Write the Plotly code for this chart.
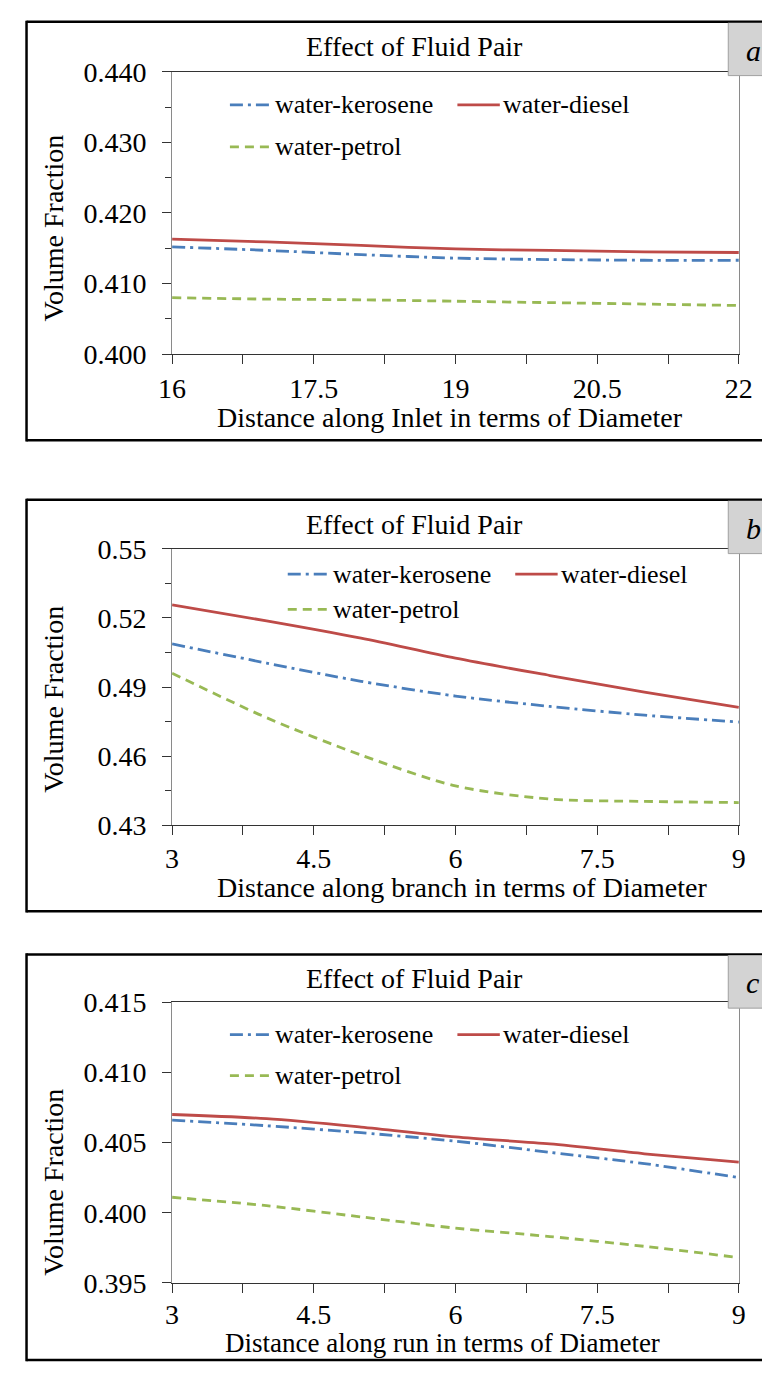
import plotly.graph_objects as go

W, H = 776, 1378

# ---------------- data ----------------
series_names = ["water-kerosene", "water-diesel", "water-petrol"]

x_a = [16, 17, 18, 19, 20, 21, 22]
a_kerosene = [0.4152, 0.4147, 0.4141, 0.4136, 0.4134, 0.4133, 0.4133]
a_diesel = [0.4163, 0.4159, 0.4154, 0.4149, 0.4147, 0.4145, 0.4144]
a_petrol = [0.4080, 0.4078, 0.4077, 0.4075, 0.4073, 0.4071, 0.4069]

x_b = [3, 4, 5, 6, 7, 8, 9]
b_kerosene = [0.5087, 0.5004, 0.4925, 0.4861, 0.4816, 0.4778, 0.4748]
b_diesel = [0.5256, 0.5187, 0.5112, 0.5025, 0.4950, 0.4878, 0.4812]
b_petrol = [0.4960, 0.4767, 0.4605, 0.4471, 0.4414, 0.4404, 0.4399]

x_c = [3, 4, 5, 6, 7, 8, 9]
c_kerosene = [0.4066, 0.4062, 0.4057, 0.4051, 0.4043, 0.4035, 0.4025]
c_diesel = [0.4070, 0.4067, 0.4061, 0.4054, 0.4049, 0.4042, 0.4036]
c_petrol = [0.4011, 0.4005, 0.3997, 0.3989, 0.3983, 0.3976, 0.3968]

panel_titles = ["Effect of Fluid Pair", "Effect of Fluid Pair", "Effect of Fluid Pair"]
panel_letters = ["a", "b", "c"]
x_titles = ["Distance along Inlet in terms of Diameter",
            "Distance along branch in terms of Diameter",
            "Distance along run in terms of Diameter"]
y_title = "Volume Fraction"

# ---------------- styling ----------------
FONT = "Liberation Serif, Times New Roman, serif"
COLORS = {"water-kerosene": "#4a7ebb", "water-diesel": "#be4b48", "water-petrol": "#98b954"}
DASHES = {"water-kerosene": "13px,5px,3px,5px", "water-diesel": "solid", "water-petrol": "9px,6px"}
LW = 2.8

panels = [
    dict(x=x_a, data=[a_kerosene, a_diesel, a_petrol], xr=[16, 22], x0=16, dx=1.5,
         yr=[0.400, 0.440], dy=0.010, ydm=0.005, fmt=".3f",
         plot=(164, 58, 752, 347), border=(13, 7, 435),
         title_y=32, xt_y=412, xt_x=452, yt_y=218, xso=0, xts=28,
         leg=(92, 135, 224, 460)),
    dict(x=x_b, data=[b_kerosene, b_diesel, b_petrol], xr=[3, 9], x0=3, dx=1.5,
         yr=[0.43, 0.55], dy=0.03, ydm=0.015, fmt=".2f",
         plot=(164, 546, 752, 829), border=(13, 496, 917),
         title_y=521, xt_y=893, xt_x=465, yt_y=700, xso=-1, xts=28,
         leg=(572, 608, 284, 520)),
    dict(x=x_c, data=[c_kerosene, c_diesel, c_petrol], xr=[3, 9], x0=3, dx=1.5,
         yr=[0.395, 0.415], dy=0.005, ydm=None, fmt=".3f",
         plot=(164, 1010, 752, 1297), border=(13, 961, 1376),
         title_y=986, xt_y=1359, xt_x=445, yt_y=1194, xso=-3, xts=27,
         leg=(1043, 1085, 224, 460)),
]


def px(x):
    return x / W


def py(y):
    return 1 - y / H


fig = go.Figure()
shapes = []
annotations = []
layout = {}


def pline(x0, y0, x1, y1, color, width, dash="solid"):
    shapes.append(dict(type="line", xref="paper", yref="paper", x0=px(x0), x1=px(x1),
                       y0=py(y0), y1=py(y1), line=dict(color=color, width=width, dash=dash),
                       layer="above"))


for i, p in enumerate(panels):
    n = "" if i == 0 else str(i + 1)
    xa, ya = "x" + n, "y" + n
    l, t, r, b = p["plot"]
    for name, vals in zip(series_names, p["data"]):
        fig.add_trace(go.Scatter(
            x=p["x"], y=vals, xaxis=xa, yaxis=ya, mode="lines", name=name,
            line=dict(color=COLORS[name], width=LW, dash=DASHES[name], shape="spline", smoothing=0.8),
            showlegend=False))

    layout["xaxis" + n] = dict(
        domain=[px(l), px(r)], anchor=ya, range=p["xr"], tick0=p["x0"], dtick=p["dx"],
        showgrid=False, zeroline=False, showline=True, linecolor="#333333", linewidth=1.2,
        mirror=True, ticks="outside", ticklen=9, tickcolor="#333333", tickwidth=1.2,
        ticklabelstandoff=p["xso"],
        minor=dict(ticks="outside", ticklen=9, tickcolor="#333333", tickwidth=1.2,
                   tick0=p["x0"], dtick=p["dx"] / 2, showgrid=False),
        tickfont=dict(family=FONT, size=28, color="black"), fixedrange=True)
    ydict = dict(
        domain=[py(b), py(t)], anchor=xa, range=p["yr"], tick0=p["yr"][0], dtick=p["dy"],
        tickformat=p["fmt"], showgrid=False, zeroline=False, showline=True,
        linecolor="#8a8a8a", linewidth=1.2, mirror=True, ticks="outside", ticklen=9,
        tickcolor="#333333", tickwidth=1.2, ticklabelstandoff=10,
        tickfont=dict(family=FONT, size=28, color="black"), fixedrange=True)
    if p["ydm"]:
        ydict["minor"] = dict(ticks="outside", ticklen=6, tickcolor="#333333", tickwidth=1.2,
                              tick0=p["yr"][0], dtick=p["ydm"], showgrid=False)
    layout["yaxis" + n] = ydict

    # outer frame (right side falls outside the picture)
    bl, bt, bb = p["border"]
    pline(bl, bt, W, bt, "black", 2.5)
    pline(bl, bb, W, bb, "black", 2.5)
    pline(bl, bt - 1.2, bl, bb + 1.2, "black", 2.5)
    # letter box
    shapes.append(dict(type="rect", xref="paper", yref="paper", x0=px(741), x1=px(W),
                       y0=py(bt + 55), y1=py(bt + 1), line=dict(width=0),
                       fillcolor="#d3d3d3", layer="above"))
    pline(741, bt + 1, 741, bt + 55, "#a0a0a0", 1)
    pline(741, bt + 55, W, bt + 55, "#a0a0a0", 1)
    annotations.append(dict(xref="paper", yref="paper", x=px(757), y=py(bt + 29),
                            xanchor="left", yanchor="middle", showarrow=False,
                            text="<i>" + panel_letters[i] + "</i>",
                            font=dict(family=FONT, size=30, color="black")))
    # title
    annotations.append(dict(xref="paper", yref="paper", x=px(416), y=py(p["title_y"]),
                            xanchor="center", yanchor="middle", showarrow=False,
                            text=panel_titles[i], font=dict(family=FONT, size=28, color="black")))
    # axis titles
    annotations.append(dict(xref="paper", yref="paper", x=px(p["xt_x"]), y=py(p["xt_y"]),
                            xanchor="center", yanchor="middle", showarrow=False,
                            text=x_titles[i], font=dict(family=FONT, size=p["xts"], color="black")))
    annotations.append(dict(xref="paper", yref="paper", x=px(41), y=py(p["yt_y"]),
                            xanchor="center", yanchor="middle", showarrow=False, textangle=-90,
                            text=y_title, font=dict(family=FONT, size=28, color="black")))
    # legend
    r1, r2, lx1, lx2 = p["leg"]
    entries = [(series_names[0], lx1, r1), (series_names[1], lx2, r1), (series_names[2], lx1, r2)]
    for name, lx, ly in entries:
        pline(lx, ly, lx + 44, ly, COLORS[name], LW, DASHES[name])
        annotations.append(dict(xref="paper", yref="paper", x=px(lx + 45), y=py(ly),
                                xanchor="left", yanchor="middle", showarrow=False, text=name,
                                font=dict(family=FONT, size=26, color="black")))

fig.update_layout(
    width=W, height=H, autosize=False, margin=dict(l=0, r=0, t=0, b=0),
    paper_bgcolor="white", plot_bgcolor="white", showlegend=False,
    font=dict(family=FONT, color="black"),
    shapes=shapes, annotations=annotations, **layout)

fig.write_html("out.html", config={"displayModeBar": False},
               post_script="document.body.style.margin='0';document.body.style.overflow='hidden';")
